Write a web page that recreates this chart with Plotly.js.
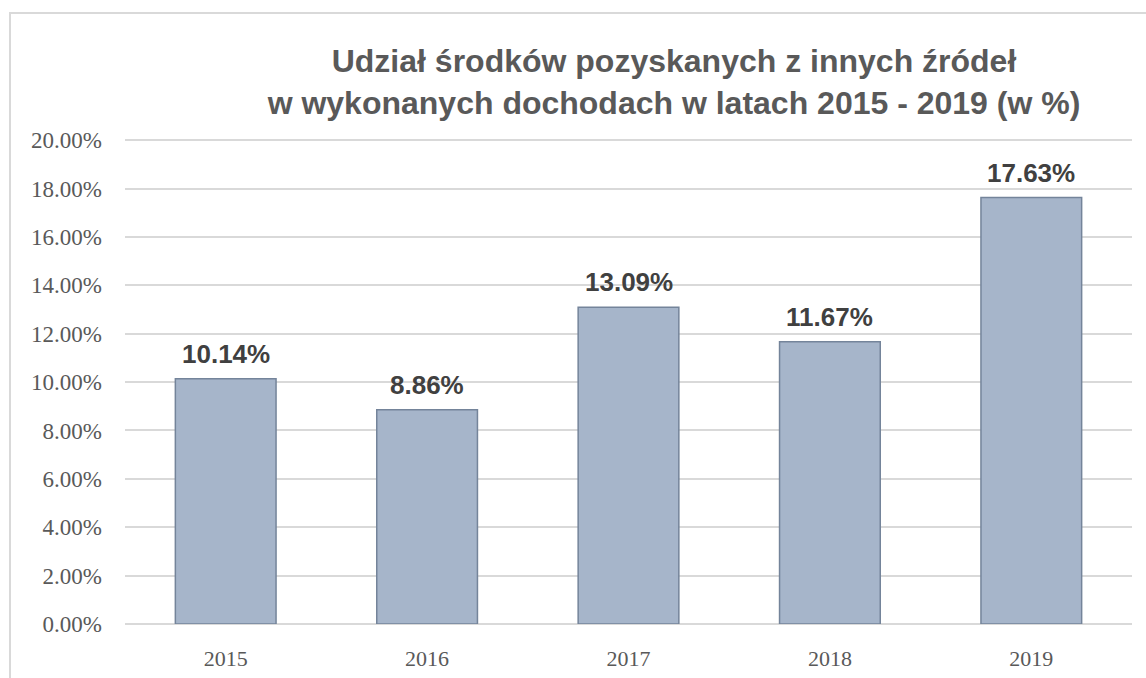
<!DOCTYPE html>
<html>
<head>
<meta charset="utf-8">
<script src="https://cdn.plot.ly/plotly-3.0.1.min.js"></script>
<style>
  html, body { margin: 0; padding: 0; background: #ffffff; }
  #wrap { position: relative; width: 1146px; height: 678px; overflow: hidden; }
  #frame { position: absolute; left: 9px; top: 12px; width: 1200px; height: 700px;
           border-left: 2px solid #d9d9d9; border-top: 2px solid #d9d9d9; box-sizing: border-box; }
  #chart { position: absolute; left: 0; top: 0; width: 1146px; height: 678px; }
</style>
</head>
<body>
<div id="wrap">
  <div id="frame"></div>
  <div id="chart"></div>
</div>
<script>
const years = ['2015', '2016', '2017', '2018', '2019'];
const shares = [10.14, 8.86, 13.09, 11.67, 17.63];
const shareLabels = ['10.14%', '8.86%', '13.09%', '11.67%', '17.63%'];
const yTickVals = [0, 2, 4, 6, 8, 10, 12, 14, 16, 18, 20];
const yTickText = ['0.00%', '2.00%', '4.00%', '6.00%', '8.00%', '10.00%', '12.00%', '14.00%', '16.00%', '18.00%', '20.00%'];
const titleText = 'Udział środków pozyskanych z innych źródeł<br>w wykonanych dochodach w latach 2015 - 2019 (w %)';

const trace = {
  type: 'bar',
  x: years,
  y: shares,
  marker: { color: '#a6b5ca', line: { color: '#74849a', width: 1.5 } },
  hoverinfo: 'skip'
};

const annotations = years.map((yr, i) => ({
  x: i, y: shares[i], xref: 'x', yref: 'y',
  text: shareLabels[i], showarrow: false,
  yanchor: 'bottom', yshift: 8,
  font: { family: 'Liberation Sans, Arial, sans-serif', size: 26, color: '#404040', weight: 'bold' }
}));

const layout = {
  width: 1146, height: 678,
  paper_bgcolor: 'rgba(0,0,0,0)',
  plot_bgcolor: 'rgba(0,0,0,0)',
  margin: { l: 125, r: 14, t: 139, b: 54 },
  showlegend: false,
  bargap: 0.5,
  title: {
    text: titleText,
    font: { family: 'Liberation Sans, Arial, sans-serif', size: 32, color: '#595959', weight: 'bold' },
    x: 674 / 1146, xref: 'container', xanchor: 'center',
    y: 1 - 72 / 678, yref: 'container', yanchor: 'top'
  },
  xaxis: {
    type: 'category',
    range: [-0.5, 4.5], autorange: false,
    showgrid: false, zeroline: false, showline: false,
    ticks: '', ticklabelstandoff: 19,
    tickfont: { family: 'Liberation Serif, DejaVu Serif, serif', size: 22, color: '#595959' }
  },
  yaxis: {
    range: [0, 20.05], autorange: false,
    tickmode: 'array', tickvals: yTickVals, ticktext: yTickText,
    showgrid: true, gridcolor: '#d9d9d9', gridwidth: 2,
    zeroline: true, zerolinecolor: '#d9d9d9', zerolinewidth: 2,
    showline: false, ticks: '', ticklabelstandoff: 22,
    tickfont: { family: 'Liberation Serif, DejaVu Serif, serif', size: 23, color: '#595959' }
  },
  annotations: annotations
};

Plotly.newPlot('chart', [trace], layout, { displayModeBar: false, staticPlot: true });
</script>
</body>
</html>
